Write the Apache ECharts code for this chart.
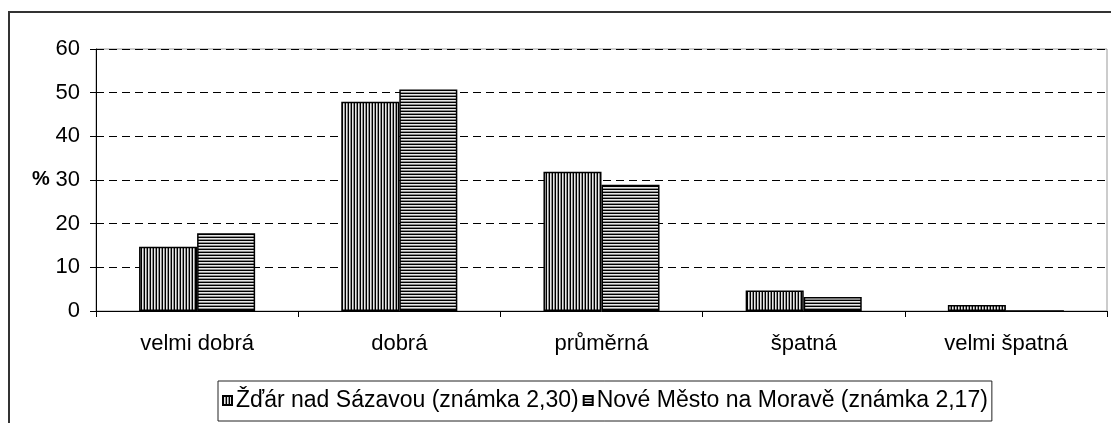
<!DOCTYPE html>
<html>
<head>
<meta charset="utf-8">
<script src="https://cdn.jsdelivr.net/npm/echarts@6/dist/echarts.min.js"></script>
<style>
html,body{margin:0;padding:0;background:#fff;overflow:hidden;}
#frame{position:absolute;left:8px;top:11px;width:1200px;height:500px;border:2px solid #333;box-sizing:border-box;}
#chart{position:absolute;left:0;top:0;width:1111px;height:423px;}
</style>
</head>
<body>
<div id="frame"></div>
<div id="chart"></div>
<script>
const categories = ['velmi dobrá', 'dobrá', 'průměrná', 'špatná', 'velmi špatná'];
const seriesNames = ['Žďár nad Sázavou (známka 2,30)', 'Nové Město na Moravě (známka 2,17)'];
const zdarValues = [14.7, 47.9, 31.9, 4.7, 1.4];
const noveValues = [17.8, 50.7, 28.9, 3.2, 0];
const yTicks = [0, 10, 20, 30, 40, 50, 60];

function makePattern(vertical) {
  const c = document.createElement('canvas');
  const cols = ['#000000', '#e8e8e8', '#8c8c8c'];
  if (vertical) { c.width = 3; c.height = 1; } else { c.width = 1; c.height = 3; }
  const ctx = c.getContext('2d');
  cols.forEach((col, i) => {
    ctx.fillStyle = col;
    if (vertical) ctx.fillRect(i, 0, 1, 1); else ctx.fillRect(0, i, 1, 1);
  });
  return { image: c, repeat: 'repeat' };
}
const vPat = makePattern(true);
const hPat = makePattern(false);

const FONT = 'Liberation Sans, Arial, sans-serif';
const chart = echarts.init(document.getElementById('chart'), null, { renderer: 'canvas' });
chart.setOption({
  animation: false,
  backgroundColor: 'transparent',
  grid: { left: 96, right: 4, top: 49, bottom: 112, show: true, borderColor: '#999', borderWidth: 1, containLabel: false },
  legend: {
    left: 218, top: 381,
    padding: [8, 4, 9, 4],
    itemGap: 4,
    itemWidth: 9, itemHeight: 9,
    borderColor: '#222', borderWidth: 1,
    backgroundColor: '#fff',
    textStyle: { fontFamily: FONT, fontSize: 23, color: '#000', padding: [0, 0, 0, -1] },
    data: seriesNames.map(n => ({ name: n, icon: 'rect' }))
  },
  xAxis: {
    type: 'category',
    data: categories,
    axisLine: { lineStyle: { color: '#000', width: 1 } },
    axisTick: { show: true, length: 6, alignWithLabel: false, lineStyle: { color: '#000' } },
    axisLabel: { fontFamily: FONT, fontSize: 22, color: '#000', margin: 22 },
    splitLine: { show: false }
  },
  yAxis: {
    type: 'value',
    min: yTicks[0], max: yTicks[yTicks.length - 1], interval: 10,
    axisLine: { show: true, lineStyle: { color: '#000', width: 1 } },
    axisTick: { show: true, length: 6, lineStyle: { color: '#000' } },
    axisLabel: { fontFamily: FONT, fontSize: 22, color: '#000', margin: 16 },
    splitLine: { show: true, lineStyle: { color: '#000', type: [8, 5], width: 1 } }
  },
  graphic: [
    { type: 'text', left: 32, top: 169, style: { text: '%', font: 'bold 20px Liberation Sans, Arial, sans-serif', fill: '#000' } }
  ],
  series: [
    {
      name: seriesNames[0], type: 'bar', data: zdarValues,
      barGap: '0%', barCategoryGap: '42.6%',
      itemStyle: { color: vPat, borderColor: '#000', borderWidth: 1.5 }
    },
    {
      name: seriesNames[1], type: 'bar', data: noveValues,
      barGap: '0%', barCategoryGap: '42.6%',
      itemStyle: { color: hPat, borderColor: '#000', borderWidth: 1.5 }
    }
  ]
});
</script>
</body>
</html>
